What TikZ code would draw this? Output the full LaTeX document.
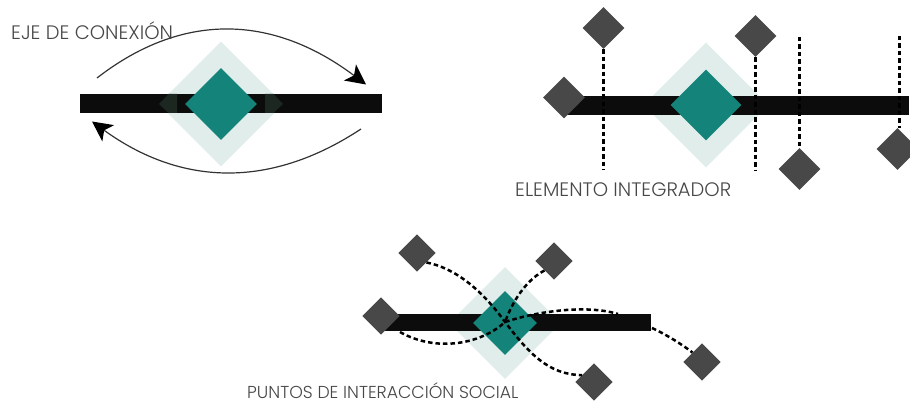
\documentclass[tikz,border=0pt]{standalone}
\usepackage{fontspec}
\setmainfont{Poppins Light}
\usetikzlibrary{shapes.geometric,arrows.meta}
\definecolor{teal1}{HTML}{14837A}
\definecolor{pale}{HTML}{E0EDEA}
\definecolor{greyd}{HTML}{484848}
\definecolor{barc}{HTML}{0C0C0C}
\definecolor{tipc}{HTML}{1C2722}
\tikzset{
 dia/.style={diamond,aspect=1,inner sep=0pt,draw=none,minimum width=#1,minimum height=#1},
 halo/.style={dia=#1,fill=pale},
 core/.style={dia=#1,fill=teal1},
 spot/.style={dia=#1,fill=greyd},
 barbox/.style={rectangle,inner sep=0pt,fill=barc,minimum width=#1},
 link/.style={line width=2.5pt,dash pattern=on 4.5pt off 3pt,black},
 flow/.style={line width=1.2pt,black!80,-{Stealth[length=20pt,width=20pt,inset=5pt,black]}},
 lbl/.style={anchor=base west,inner sep=0pt,text=black!72,font=\fontsize{19.5}{22}\selectfont},
}
\begin{document}
\begin{tikzpicture}[x=1pt,y=-1pt]
\useasboundingbox (0,0) rectangle (910,403);
% top left
\node[halo=125pt] (h1) at (221,104) {};
\node[barbox=302pt,minimum height=19pt] (b1) at (231,103.5) {};
\fill[tipc] (159,104)--(168.5,94)--(177,94)--(177,113)--(168.5,113)--cycle;
\fill[tipc] (283,104)--(273.5,94)--(265,94)--(265,113)--(273.5,113)--cycle;
\node[core=72pt] (c1) at (221,104) {};
\coordinate (a1) at (97,78); \coordinate (a2) at (366,84.5);
\coordinate (a3) at (361,129); \coordinate (a4) at (92,121.5);
\draw[flow] (a1) .. controls (182,12) and (272,14) .. (a2);
\draw[flow] (a3) .. controls (270,189) and (181,186) .. (a4);
\node[lbl] (t1) at (11,39.5) {EJE DE CONEXIÓN};
% top right
\node[halo=125pt] (h2) at (706,105) {};
\node[barbox=342pt,minimum height=19pt] (b2) at (738,105.5) {};
\node[core=71pt] (c2) at (706,105) {};
\node[spot=42pt] (s1) at (603.5,28) {};
\node[spot=42pt] (s2) at (755.5,36) {};
\node[spot=42pt] (s3) at (564,97.5) {};
\node[spot=42pt] (s4) at (799.5,169) {};
\node[spot=42pt] (s5) at (897.5,149) {};
\coordinate (e1) at (603.5,170); \coordinate (e2) at (755.5,170);
\coordinate (e3) at (799.5,37); \coordinate (e4) at (899.5,36);
\coordinate (e5) at (899.5,128);
\draw[link] (s1.south) -- (e1);
\draw[link] (s2.south) -- (e2);
\draw[link] (e3) -- (s4.north);
\draw[link] (e4) -- (e5);
\node[lbl] (t2) at (515,197) {ELEMENTO INTEGRADOR};
% bottom
\node[halo=112pt] (h3) at (505,323) {};
\node[barbox=266pt,minimum height=17pt] (b3) at (517.5,322.5) {};
\node[core=64pt] (c3) at (505,323) {};
\node[spot=37.5pt] (p1) at (417,253) {};
\node[spot=37.5pt] (p2) at (554,261) {};
\node[spot=37.5pt] (p3) at (381,316) {};
\node[spot=37.5pt] (p4) at (594,382) {};
\node[spot=37.5pt] (p5) at (702,362) {};
\coordinate (m) at (505,322);
\coordinate (f1) at (400,332); \coordinate (f2) at (618,314); \coordinate (f3) at (652,328);
\draw[link] (p1.south east) .. controls (455,268) and (482,290) .. (m) .. controls (528,352) and (548,375) .. (p4.150);
\draw[link] (p2.225) .. controls (530,278) and (515,295) .. (m);
\draw[link] (f1) .. controls (435,352) and (480,345) .. (m) .. controls (535,312) and (585,304) .. (f2);
\draw[link] (f3) .. controls (665,334) and (680,343) .. (p5.135);
\node[lbl,font=\fontsize{17.3}{20}\selectfont] (t3) at (247,398) {PUNTOS DE INTERACCIÓN SOCIAL};
\end{tikzpicture}
\end{document}
